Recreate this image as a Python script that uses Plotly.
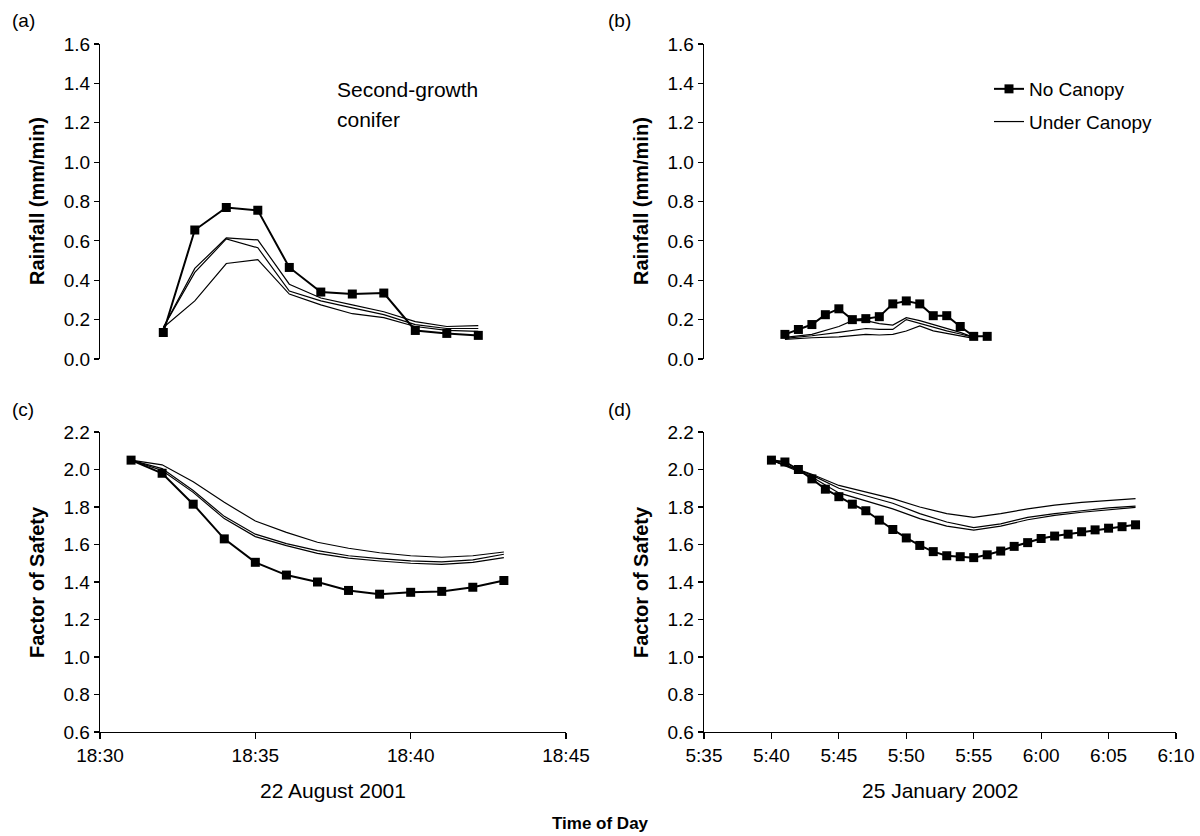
import plotly.graph_objects as go

# ---------------- data ----------------
# (a) 22 Aug 2001 rainfall (mm/min)
a_times_nc = ["18:32", "18:33", "18:34", "18:35", "18:36", "18:37", "18:38", "18:39", "18:40", "18:41", "18:42"]
a_no_canopy = [0.135, 0.655, 0.77, 0.755, 0.465, 0.34, 0.33, 0.335, 0.145, 0.13, 0.12]
a_times_uc = ["18:32", "18:33", "18:34", "18:35", "18:36", "18:37", "18:38", "18:39", "18:40", "18:41", "18:42"]
a_under_1 = [0.16, 0.46, 0.615, 0.605, 0.38, 0.31, 0.275, 0.24, 0.19, 0.165, 0.17]
a_under_2 = [0.16, 0.44, 0.61, 0.565, 0.345, 0.295, 0.26, 0.225, 0.175, 0.155, 0.155]
a_under_3 = [0.16, 0.295, 0.485, 0.505, 0.33, 0.275, 0.23, 0.21, 0.165, 0.145, 0.14]

# (b) 25 Jan 2002 rainfall (mm/min)
b_times_nc = ["05:41", "05:42", "05:43", "05:44", "05:45", "05:46", "05:47", "05:48",
              "05:49", "05:50", "05:51", "05:52", "05:53", "05:54", "05:55", "05:56"]
b_no_canopy = [0.125, 0.15, 0.175, 0.225, 0.255, 0.2, 0.205, 0.215, 0.28, 0.295, 0.28,
               0.22, 0.22, 0.165, 0.115, 0.115]
b_times_uc = ["05:41", "05:43", "05:45", "05:46", "05:47", "05:48", "05:49", "05:50",
              "05:51", "05:52", "05:53", "05:54", "05:55"]
b_under_1 = [0.11, 0.125, 0.165, 0.195, 0.195, 0.18, 0.172, 0.21, 0.195, 0.175, 0.155, 0.135, 0.11]
b_under_2 = [0.105, 0.118, 0.135, 0.145, 0.155, 0.15, 0.15, 0.2, 0.18, 0.16, 0.143, 0.127, 0.11]
b_under_3 = [0.1, 0.108, 0.112, 0.118, 0.125, 0.122, 0.125, 0.142, 0.168, 0.143, 0.13, 0.118, 0.105]

# (c) 22 Aug 2001 factor of safety
c_times_nc = ["18:31", "18:32", "18:33", "18:34", "18:35", "18:36", "18:37", "18:38",
              "18:39", "18:40", "18:41", "18:42", "18:43"]
c_no_canopy = [2.05, 1.98, 1.815, 1.63, 1.505, 1.437, 1.40, 1.355, 1.335, 1.345, 1.35, 1.372, 1.408]
c_times_uc = c_times_nc
c_under_1 = [2.05, 2.025, 1.935, 1.825, 1.725, 1.665, 1.612, 1.58, 1.556, 1.54, 1.532, 1.54, 1.56]
c_under_2 = [2.05, 2.005, 1.888, 1.75, 1.655, 1.605, 1.567, 1.54, 1.525, 1.513, 1.507, 1.518, 1.548]
c_under_3 = [2.05, 1.995, 1.878, 1.738, 1.642, 1.594, 1.553, 1.527, 1.512, 1.5, 1.494, 1.505, 1.53]

# (d) 25 Jan 2002 factor of safety
d_times_nc = ["05:40", "05:41", "05:42", "05:43", "05:44", "05:45", "05:46", "05:47", "05:48", "05:49",
              "05:50", "05:51", "05:52", "05:53", "05:54", "05:55", "05:56", "05:57", "05:58", "05:59",
              "06:00", "06:01", "06:02", "06:03", "06:04", "06:05", "06:06", "06:07"]
d_no_canopy = [2.05, 2.04, 2.0, 1.95, 1.895, 1.855, 1.815, 1.78, 1.73, 1.68,
               1.635, 1.595, 1.562, 1.54, 1.535, 1.53, 1.545, 1.565, 1.59, 1.61,
               1.632, 1.645, 1.655, 1.668, 1.678, 1.687, 1.695, 1.705]
d_times_uc = ["05:40", "05:43", "05:45", "05:47", "05:49", "05:51", "05:53", "05:55",
              "05:57", "05:59", "06:01", "06:03", "06:05", "06:07"]
d_under_1 = [2.05, 1.975, 1.915, 1.88, 1.845, 1.80, 1.765, 1.745, 1.765, 1.79, 1.81, 1.825, 1.835, 1.845]
d_under_2 = [2.05, 1.97, 1.90, 1.862, 1.82, 1.765, 1.72, 1.69, 1.71, 1.745, 1.765, 1.78, 1.795, 1.805]
d_under_3 = [2.05, 1.96, 1.875, 1.832, 1.79, 1.738, 1.698, 1.677, 1.698, 1.732, 1.755, 1.772, 1.787, 1.798]

rain_ticks = [0.0, 0.2, 0.4, 0.6, 0.8, 1.0, 1.2, 1.4, 1.6]
fs_ticks = [0.6, 0.8, 1.0, 1.2, 1.4, 1.6, 1.8, 2.0, 2.2]

DAY1 = "2001-08-22 "
DAY2 = "2002-01-25 "

def ts(day, times):
    return [day + t for t in times]

FONT = "Liberation Sans, Arial, Helvetica, sans-serif"
FS = 19
W, H = 1200, 836

fig = go.Figure()

def add_panel(xa, ya, day, t_nc, nc, t_uc, ucs, show_leg):
    for i, u in enumerate(ucs):
        fig.add_trace(go.Scatter(
            x=ts(day, t_uc), y=u, mode="lines", xaxis=xa, yaxis=ya,
            line=dict(color="black", width=1.2),
            name="Under Canopy", legendgroup="uc", legendrank=2,
            showlegend=(show_leg and i == 0)))
    fig.add_trace(go.Scatter(
        x=ts(day, t_nc), y=nc, mode="lines+markers", xaxis=xa, yaxis=ya,
        line=dict(color="black", width=2),
        marker=dict(symbol="square", size=9, color="black"),
        name="No Canopy", legendgroup="nc", legendrank=1, showlegend=show_leg))

add_panel("x", "y", DAY1, a_times_nc, a_no_canopy, a_times_uc, [a_under_1, a_under_2, a_under_3], False)
add_panel("x2", "y2", DAY2, b_times_nc, b_no_canopy, b_times_uc, [b_under_1, b_under_2, b_under_3], True)
add_panel("x3", "y3", DAY1, c_times_nc, c_no_canopy, c_times_uc, [c_under_1, c_under_2, c_under_3], False)
add_panel("x4", "y4", DAY2, d_times_nc, d_no_canopy, d_times_uc, [d_under_1, d_under_2, d_under_3], False)

def px_x(a, b):
    return [a / W, b / W]

def px_y(top, bottom):
    return [1 - bottom / H, 1 - top / H]

tickfont = dict(family=FONT, size=FS, color="black")
yax_common = dict(showline=True, linecolor="black", linewidth=1.3, ticks="outside",
                  ticklen=5, tickcolor="black", tickwidth=1.2, showgrid=False, zeroline=False,
                  tickfont=tickfont, tickformat=".1f", automargin=False)
xax_common = dict(type="date", showline=True, linecolor="black", linewidth=1.3, ticks="outside",
                  ticklen=6, tickcolor="black", tickwidth=1.2, showgrid=False, zeroline=False,
                  tickfont=tickfont, dtick=300000, automargin=False)

fig.update_layout(
    width=W, height=H,
    margin=dict(l=0, r=0, t=0, b=0),
    paper_bgcolor="white", plot_bgcolor="white",
    font=dict(family=FONT, size=FS, color="black"),
    xaxis=dict(xax_common, domain=px_x(100.3, 572.8), range=[DAY1 + "18:30", DAY1 + "18:45"],
               visible=False, anchor="y"),
    yaxis=dict(yax_common, domain=px_y(44, 359), range=[0, 1.6], tickvals=rain_ticks,
               anchor="x"),
    xaxis2=dict(xax_common, domain=px_x(704, 1176), range=[DAY2 + "05:35", DAY2 + "06:10"],
                visible=False, anchor="y2"),
    yaxis2=dict(yax_common, domain=px_y(44, 359), range=[0, 1.6], tickvals=rain_ticks,
                anchor="x2"),
    xaxis3=dict(xax_common, domain=px_x(100, 566), range=[DAY1 + "18:30", DAY1 + "18:45"],
                tickformat="%H:%M", anchor="y3"),
    yaxis3=dict(yax_common, domain=px_y(432, 732), range=[0.6, 2.2], tickvals=fs_ticks,
                anchor="x3"),
    xaxis4=dict(xax_common, domain=px_x(704, 1176), range=[DAY2 + "05:35", DAY2 + "06:10"],
                tickformat="%-H:%M", anchor="y4"),
    yaxis4=dict(yax_common, domain=px_y(432, 732), range=[0.6, 2.2], tickvals=fs_ticks,
                anchor="x4"),
    showlegend=True,
    legend=dict(x=989 / W, y=1 - 70 / H, xanchor="left", yanchor="top",
                bgcolor="rgba(0,0,0,0)", borderwidth=0,
                font=dict(family=FONT, size=FS, color="black"),
                traceorder="grouped", tracegroupgap=5,
                itemwidth=30),
)

def ann(text, x, y, size=FS, bold=False, angle=0, xanchor="center", yanchor="middle"):
    if bold:
        text = "<b>" + text + "</b>"
    fig.add_annotation(text=text, x=x / W, y=1 - y / H, xref="paper", yref="paper",
                       showarrow=False, textangle=angle, xanchor=xanchor, yanchor=yanchor,
                       font=dict(family=FONT, size=size, color="black"))

ann("(a)", 10, 20, xanchor="left")
ann("(b)", 606, 20, xanchor="left")
ann("(c)", 10, 410, xanchor="left")
ann("(d)", 606, 410, xanchor="left")
ann("Second-growth", 335, 89, size=21, xanchor="left")
ann("conifer", 335, 120, size=21, xanchor="left")
ann("Rainfall (mm/min)", 37, 201, size=20, bold=True, angle=-90)
ann("Rainfall (mm/min)", 641, 201, size=20, bold=True, angle=-90)
ann("Factor of Safety", 37, 582, size=20, bold=True, angle=-90)
ann("Factor of Safety", 641, 582, size=20, bold=True, angle=-90)
ann("22 August 2001", 333, 790, size=21)
ann("25 January 2002", 940, 790, size=21)
ann("Time of Day", 600, 823, size=17, bold=True)

fig.write_html("out.html",
               config={"displayModeBar": False, "staticPlot": True},
               post_script="document.body.style.margin='0';document.body.style.padding='0';")
